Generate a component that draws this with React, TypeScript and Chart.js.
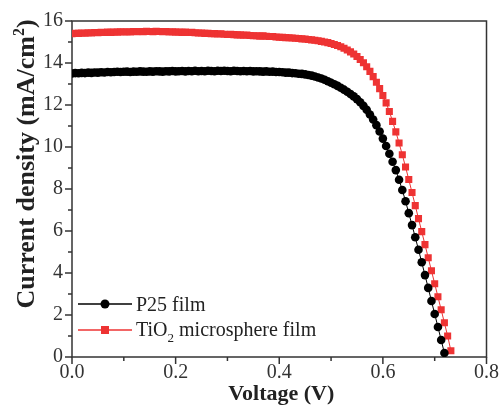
import React, { useEffect, useRef } from 'react';
import { Chart, registerables } from 'chart.js';

Chart.register(...registerables);

// Voltage sweep (V)
const voltage = [
  0, 0.00625, 0.0125, 0.01875, 0.025, 0.03125, 0.0375, 0.04375,
  0.05, 0.05625, 0.0625, 0.06875, 0.075, 0.08125, 0.0875, 0.09375,
  0.1, 0.10625, 0.1125, 0.11875, 0.125, 0.13125, 0.1375, 0.14375,
  0.15, 0.15625, 0.1625, 0.16875, 0.175, 0.18125, 0.1875, 0.19375,
  0.2, 0.20625, 0.2125, 0.21875, 0.225, 0.23125, 0.2375, 0.24375,
  0.25, 0.25625, 0.2625, 0.26875, 0.275, 0.28125, 0.2875, 0.29375,
  0.3, 0.30625, 0.3125, 0.31875, 0.325, 0.33125, 0.3375, 0.34375,
  0.35, 0.35625, 0.3625, 0.36875, 0.375, 0.38125, 0.3875, 0.39375,
  0.4, 0.40625, 0.4125, 0.41875, 0.425, 0.43125, 0.4375, 0.44375,
  0.45, 0.45625, 0.4625, 0.46875, 0.475, 0.48125, 0.4875, 0.49375,
  0.5, 0.50625, 0.5125, 0.51875, 0.525, 0.53125, 0.5375, 0.54375,
  0.55, 0.55625, 0.5625, 0.56875, 0.575, 0.58125, 0.5875, 0.59375,
  0.6, 0.60625, 0.6125, 0.61875, 0.625, 0.63125, 0.6375, 0.64375,
  0.65, 0.65625, 0.6625, 0.66875, 0.675, 0.68125, 0.6875, 0.69375,
  0.7, 0.70625, 0.7125, 0.71875, 0.725, 0.73125,
];

// P25 film current density (mA/cm2)
const p25Current = [
  13.50, 13.52, 13.51, 13.53, 13.52, 13.54, 13.53, 13.55,
  13.54, 13.56, 13.55, 13.57, 13.56, 13.57, 13.58, 13.57,
  13.58, 13.59, 13.57, 13.59, 13.58, 13.60, 13.59, 13.58,
  13.60, 13.59, 13.61, 13.60, 13.59, 13.61, 13.60, 13.62,
  13.60, 13.61, 13.62, 13.60, 13.62, 13.61, 13.63, 13.61,
  13.62, 13.61, 13.63, 13.62, 13.61, 13.63, 13.62, 13.63,
  13.62, 13.61, 13.63, 13.62, 13.61, 13.62, 13.61, 13.62,
  13.60, 13.61, 13.60, 13.59, 13.60, 13.58, 13.59, 13.57,
  13.57, 13.56, 13.54, 13.54, 13.52, 13.51, 13.49, 13.48,
  13.46, 13.43, 13.40, 13.36, 13.31, 13.26, 13.20, 13.13,
  13.06, 12.99, 12.91, 12.82, 12.73, 12.63, 12.52, 12.41,
  12.28, 12.13, 11.96, 11.77, 11.55, 11.31, 11.04, 10.74,
  10.40, 10.05, 9.68, 9.30, 8.90, 8.44, 7.95, 7.42,
  6.85, 6.28, 5.70, 5.11, 4.51, 3.90, 3.29, 2.67,
  2.05, 1.43, 0.81, 0.19,
];

// TiO2 microsphere film current density (mA/cm2)
const tio2Current = [
  15.40, 15.42, 15.41, 15.43, 15.42, 15.44, 15.43, 15.45,
  15.44, 15.46, 15.45, 15.47, 15.46, 15.48, 15.47, 15.49,
  15.48, 15.49, 15.48, 15.50, 15.49, 15.50, 15.49, 15.51,
  15.50, 15.49, 15.51, 15.50, 15.49, 15.50, 15.48, 15.49,
  15.47, 15.48, 15.46, 15.47, 15.45, 15.46, 15.44, 15.43,
  15.43, 15.41, 15.42, 15.40, 15.40, 15.38, 15.39, 15.37,
  15.36, 15.37, 15.35, 15.34, 15.34, 15.32, 15.33, 15.31,
  15.30, 15.30, 15.28, 15.29, 15.27, 15.26, 15.26, 15.24,
  15.23, 15.22, 15.21, 15.20, 15.19, 15.18, 15.17, 15.15,
  15.14, 15.12, 15.10, 15.08, 15.06, 15.03, 15.00, 14.97,
  14.93, 14.88, 14.83, 14.77, 14.70, 14.62, 14.53, 14.43,
  14.31, 14.17, 14.01, 13.82, 13.60, 13.35, 13.08, 12.78,
  12.45, 12.10, 11.69, 11.22, 10.72, 10.19, 9.63, 9.05,
  8.45, 7.83, 7.21, 6.59, 5.97, 5.35, 4.73, 4.11,
  3.49, 2.87, 2.25, 1.63, 1.00, 0.30,
];

const seriesNames = ['P25 film', 'TiO2 microsphere film'];
const xMajorTicks = [0, 0.2, 0.4, 0.6, 0.8];
const xMinorTicks = [0.1, 0.3, 0.5, 0.7];
const yMajorTicks = [0, 2, 4, 6, 8, 10, 12, 14, 16];
const yMinorTicks = [1, 3, 5, 7, 9, 11, 13, 15];

const SERIF = "'Liberation Serif', 'Times New Roman', serif";
const BLACK = '#000000';
const RED = '#ee3333';
const AXIS = '#333333';

const decorPlugin = {
  id: 'decor',
  beforeDatasetsDraw(chart: any) {
    const { ctx, chartArea: a, scales } = chart;
    ctx.save();
    ctx.strokeStyle = AXIS;
    ctx.lineWidth = 1.5;
    ctx.strokeRect(a.left, a.top, a.right - a.left, a.bottom - a.top);
    const tick = (v: number, len: number, isX: boolean) => {
      ctx.beginPath();
      if (isX) {
        const px = scales.x.getPixelForValue(v);
        ctx.moveTo(px, a.bottom);
        ctx.lineTo(px, a.bottom + len);
      } else {
        const py = scales.y.getPixelForValue(v);
        ctx.moveTo(a.left, py);
        ctx.lineTo(a.left - len, py);
      }
      ctx.stroke();
    };
    xMajorTicks.forEach((v) => tick(v, 7, true));
    xMinorTicks.forEach((v) => tick(v, 4, true));
    yMajorTicks.forEach((v) => tick(v, 7, false));
    yMinorTicks.forEach((v) => tick(v, 4, false));
    ctx.restore();
  },
  afterDraw(chart: any) {
    const { ctx, chartArea: a } = chart;
    ctx.save();
    // x title
    ctx.fillStyle = '#222';
    ctx.font = `bold 22px ${SERIF}`;
    ctx.textAlign = 'center';
    ctx.textBaseline = 'alphabetic';
    ctx.fillText('Voltage (V)', (a.left + a.right) / 2 + 2, a.bottom + 43);

    // y title with superscript
    ctx.save();
    ctx.translate(34, a.top + 143);
    ctx.rotate(-Math.PI / 2);
    const mainFont = `bold 26px ${SERIF}`;
    const supFont = `bold 16px ${SERIF}`;
    const p1 = 'Current density (mA/cm';
    const p2 = '2';
    const p3 = ')';
    ctx.font = mainFont;
    const w1 = ctx.measureText(p1).width;
    const w3 = ctx.measureText(p3).width;
    ctx.font = supFont;
    const w2 = ctx.measureText(p2).width;
    const total = w1 + w2 + w3;
    const x0 = -total / 2;
    ctx.textAlign = 'left';
    ctx.font = mainFont;
    ctx.fillText(p1, x0, 0);
    ctx.font = supFont;
    ctx.fillText(p2, x0 + w1, -10);
    ctx.font = mainFont;
    ctx.fillText(p3, x0 + w1 + w2, 0);
    ctx.restore();

    // legend
    const ds = chart.data.datasets;
    const rows = [a.bottom - 53, a.bottom - 27];
    const lx0 = a.left + 6;
    const lx1 = a.left + 60;
    const mx = a.left + 33;
    rows.forEach((ry, i) => {
      const d = ds[i];
      ctx.strokeStyle = d.borderColor;
      ctx.lineWidth = 1.5;
      ctx.beginPath();
      ctx.moveTo(lx0, ry);
      ctx.lineTo(lx1, ry);
      ctx.stroke();
      ctx.fillStyle = d.backgroundColor;
      if (d.pointStyle === 'rect') {
        ctx.fillRect(mx - 4, ry - 4, 8, 8);
      } else {
        ctx.beginPath();
        ctx.arc(mx, ry, 4.5, 0, Math.PI * 2);
        ctx.fill();
      }
    });
    ctx.fillStyle = '#222';
    ctx.textAlign = 'left';
    ctx.textBaseline = 'alphabetic';
    const tx = a.left + 64;
    ctx.font = `20px ${SERIF}`;
    ctx.fillText(seriesNames[0], tx, rows[0] + 7);
    const t1 = 'TiO';
    ctx.fillText(t1, tx, rows[1] + 6);
    const wt1 = ctx.measureText(t1).width;
    ctx.font = `13px ${SERIF}`;
    ctx.fillText('2', tx + wt1, rows[1] + 12);
    const ws = ctx.measureText('2').width;
    ctx.font = `20px ${SERIF}`;
    ctx.fillText(' microsphere film', tx + wt1 + ws, rows[1] + 6);
    ctx.restore();
  },
};

export default function App() {
  const ref = useRef<HTMLCanvasElement | null>(null);
  useEffect(() => {
    document.body.style.margin = '0';
    if (!ref.current) return;
    const chart = new Chart(ref.current, {
      type: 'scatter',
      data: {
        datasets: [
          {
            label: seriesNames[0],
            data: p25Current.map((y, i) => ({ x: voltage[i], y })),
            showLine: true,
            borderColor: BLACK,
            backgroundColor: BLACK,
            borderWidth: 1,
            pointStyle: 'circle',
            pointRadius: 4.3,
            pointBorderWidth: 0,
            pointBackgroundColor: BLACK,
          },
          {
            label: seriesNames[1],
            data: tio2Current.map((y, i) => ({ x: voltage[i], y })),
            showLine: true,
            borderColor: RED,
            backgroundColor: RED,
            borderWidth: 1,
            pointStyle: 'rect',
            pointRadius: 5,
            pointBorderWidth: 0,
            pointBackgroundColor: RED,
          },
        ],
      },
      options: {
        animation: false,
        responsive: false,
        events: [],
        layout: { padding: { top: 19, right: 14, left: 0, bottom: 0 } },
        plugins: {
          legend: { display: false },
          tooltip: { enabled: false },
        },
        scales: {
          x: {
            type: 'linear',
            min: 0,
            max: 0.8,
            grid: { display: false, drawTicks: false },
            border: { display: false },
            ticks: {
              stepSize: 0.2,
              padding: 4,
              color: AXIS,
              font: { family: SERIF, size: 20 },
              maxRotation: 0,
              callback: (v: any) => Number(v).toFixed(1),
            },
            afterFit: (s: any) => {
              s.height = 51;
            },
          },
          y: {
            type: 'linear',
            min: 0,
            max: 16,
            grid: { display: false, drawTicks: false },
            border: { display: false },
            ticks: {
              stepSize: 2,
              padding: 9,
              color: AXIS,
              font: { family: SERIF, size: 20 },
            },
            afterFit: (s: any) => {
              s.width = 72;
            },
          },
        },
      },
      plugins: [decorPlugin],
    });
    return () => chart.destroy();
  }, []);
  return <canvas ref={ref} width={503} height={408} style={{ display: 'block' }} />;
}
